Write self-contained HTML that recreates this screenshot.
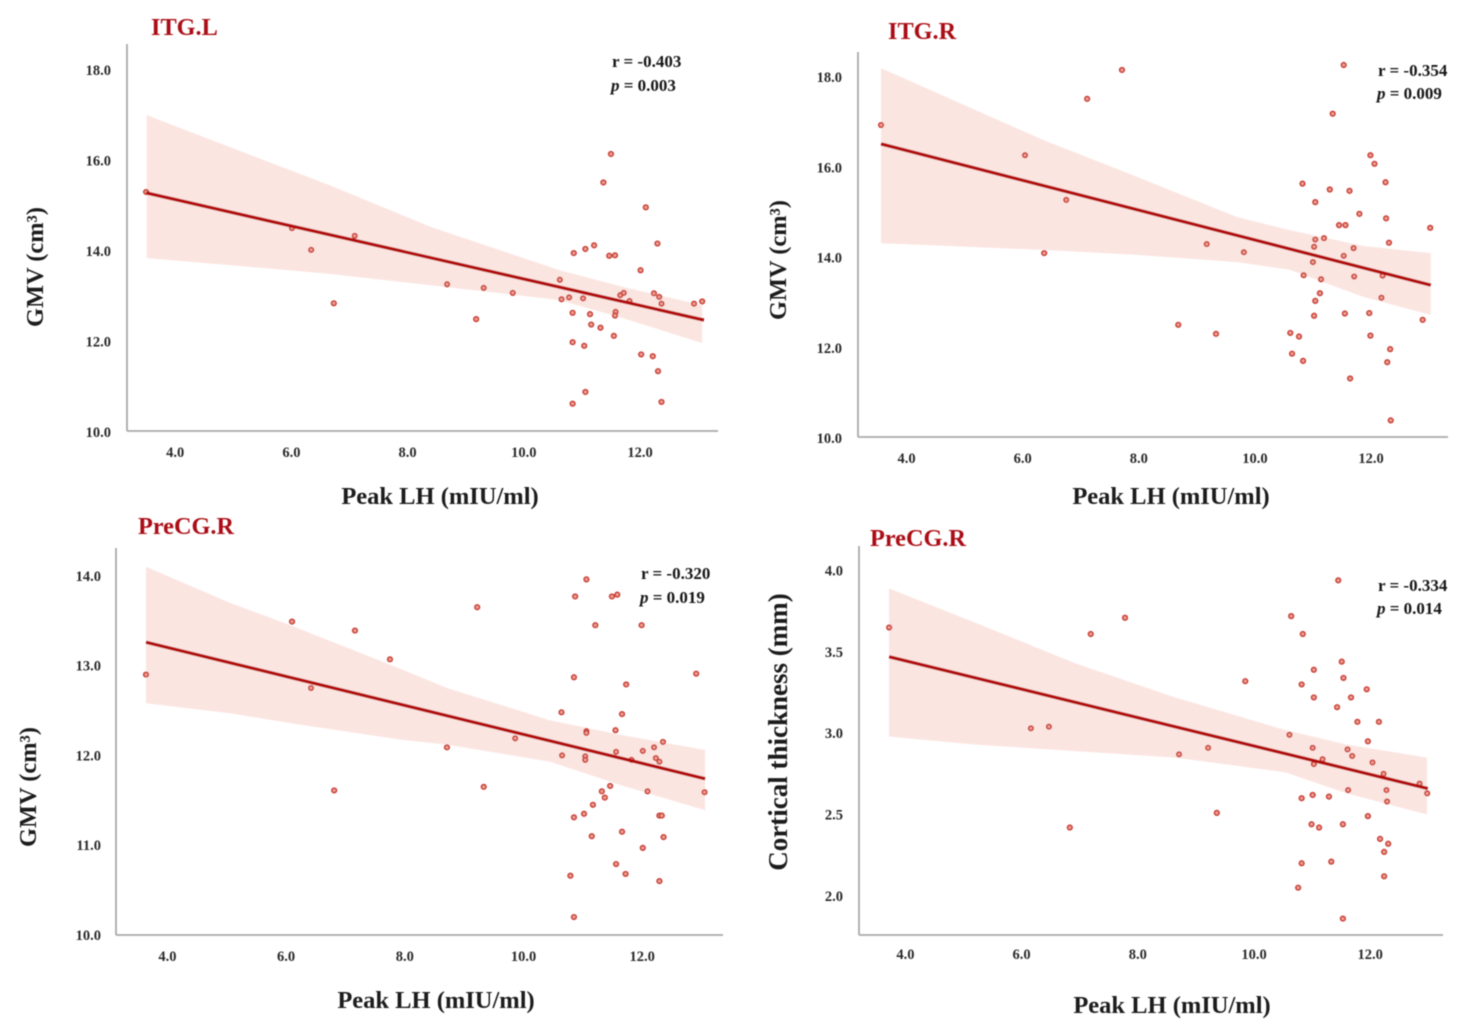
<!DOCTYPE html>
<html lang="en">
<head>
<meta charset="utf-8">
<title>Peak LH correlations</title>
<style>
html,body{margin:0;padding:0;background:#fff;}
svg{display:block;font-family:"Liberation Serif",serif;font-weight:bold;}
.panel-title{font-size:24.3px;fill:#ab0f17;}
.x-title{font-size:24.5px;fill:#1c1c1c;text-anchor:middle;}
.y-title{font-size:24.4px;fill:#1c1c1c;text-anchor:middle;}
.stat{font-size:17px;fill:#141414;}
.tick{font-size:14.5px;fill:#2a2a2a;}
</style>
</head>
<body>
<svg id="chart" width="1465" height="1032" viewBox="0 0 1465 1032" xmlns="http://www.w3.org/2000/svg">
  <defs><filter id="soft" x="-5%" y="-5%" width="110%" height="110%"><feGaussianBlur stdDeviation="0.4"/></filter></defs>
  <g id="panel-1" filter="url(#soft)">
    <text class="panel-title" x="151" y="35">ITG.L</text>
    <text class="x-title" x="440" y="504">Peak LH (mIU/ml)</text>
    <text class="y-title" transform="translate(43 267) rotate(-90)">GMV (cm³)</text>
    <text class="stat" x="612" y="67">r = -0.403</text>
    <text class="stat" x="611" y="91"><tspan font-style="italic">p</tspan> = 0.003</text>
  </g>
  <g id="panel-2" filter="url(#soft)">
    <text class="panel-title" x="888" y="39">ITG.R</text>
    <text class="x-title" x="1171" y="504">Peak LH (mIU/ml)</text>
    <text class="y-title" transform="translate(786 260) rotate(-90)">GMV (cm³)</text>
    <text class="stat" x="1378" y="76">r = -0.354</text>
    <text class="stat" x="1377" y="99"><tspan font-style="italic">p</tspan> = 0.009</text>
  </g>
  <g id="panel-3" filter="url(#soft)">
    <text class="panel-title" x="138" y="534">PreCG.R</text>
    <text class="x-title" x="436" y="1008">Peak LH (mIU/ml)</text>
    <text class="y-title" transform="translate(36 787) rotate(-90)">GMV (cm³)</text>
    <text class="stat" x="641" y="579">r = -0.320</text>
    <text class="stat" x="640" y="603"><tspan font-style="italic">p</tspan> = 0.019</text>
  </g>
  <g id="panel-4" filter="url(#soft)">
    <text class="panel-title" x="870" y="546">PreCG.R</text>
    <text class="x-title" x="1172" y="1013">Peak LH (mIU/ml)</text>
    <text class="y-title" style="font-size:27px" transform="translate(787 732) rotate(-90)">Cortical thickness (mm)</text>
    <text class="stat" x="1378" y="591">r = -0.334</text>
    <text class="stat" x="1377" y="614"><tspan font-style="italic">p</tspan> = 0.014</text>
  </g>
</svg>
<script>
const xTickLabels = ['4.0','6.0','8.0','10.0','12.0'];
const gmv18TickLabels = ['10.0','12.0','14.0','16.0','18.0'];
const gmv14TickLabels = ['10.0','11.0','12.0','13.0','14.0'];
const thicknessTickLabels = ['2.0','2.5','3.0','3.5','4.0'];

const itgLX = [3.50,6.01,6.34,6.73,7.09,8.68,9.31,9.18,9.81,11.50,11.37,12.10,12.30,11.06,11.21,10.86,11.47,11.57,12.01,10.62,10.65,10.78,11.02,11.66,11.72,11.82,12.24,12.33,12.37,12.93,13.07,10.84,11.14,11.58,11.57,11.16,11.32,11.55,10.84,11.04,12.02,12.22,12.31,11.06,10.84,12.37];
const itgLY = [15.30,14.50,14.02,12.84,14.33,13.26,13.18,12.49,13.07,16.14,15.51,14.96,14.16,14.04,14.12,13.95,13.89,13.90,13.57,13.36,12.93,12.97,12.95,13.02,13.07,12.89,13.06,12.98,12.83,12.83,12.88,12.63,12.60,12.65,12.57,12.37,12.30,12.12,11.98,11.90,11.71,11.67,11.34,10.88,10.62,10.66];
const itgLLineX = [3.50,13.10];
const itgLLineY = [15.28,12.47];
const itgLBandX = [3.51,5.51,6.66,8.39,10.62,11.71,13.07];
const itgLBandUpper = [17.00,16.01,15.45,14.53,13.57,13.20,12.80];
const itgLBandLower = [13.84,13.62,13.49,13.24,12.91,12.51,11.96];

const itgRX = [3.56,6.04,6.75,6.37,7.11,7.71,9.17,9.81,8.68,9.33,11.53,11.34,11.99,12.06,10.82,11.29,11.63,12.25,11.04,11.80,12.26,13.02,11.45,11.56,11.04,11.19,11.02,11.70,12.31,11.53,11.00,10.84,11.14,11.71,12.20,11.12,11.04,12.18,11.02,11.55,11.97,12.89,10.61,10.76,11.99,10.64,10.83,12.33,12.28,11.64,12.34];
const itgRY = [16.94,16.27,15.28,14.10,17.52,18.16,14.30,14.12,12.51,12.31,18.27,17.19,16.27,16.08,15.64,15.51,15.48,15.67,15.23,14.97,14.87,14.66,14.72,14.72,14.40,14.43,14.24,14.21,14.33,14.04,13.90,13.61,13.52,13.58,13.60,13.21,13.04,13.11,12.71,12.76,12.77,12.62,12.33,12.25,12.27,11.87,11.71,11.97,11.68,11.32,10.39];
const itgRLineX = [3.56,13.03];
const itgRLineY = [16.52,13.39];
const itgRBandX = [3.56,6.35,7.97,9.69,10.60,11.86,13.03];
const itgRBandUpper = [18.20,16.61,15.79,14.90,14.61,14.26,14.10];
const itgRBandLower = [14.32,14.17,14.06,13.90,13.73,13.13,12.73];

const precgGmvX = [3.64,6.10,6.42,6.81,7.16,7.75,8.71,9.22,9.33,9.86,11.06,10.87,11.49,11.58,11.21,11.99,10.85,11.73,12.91,10.64,11.66,11.06,11.06,11.55,12.35,12.20,12.01,11.56,10.65,11.04,11.04,12.23,12.29,11.82,11.46,11.32,11.37,12.09,13.05,11.17,11.02,10.85,12.29,12.33,11.66,11.15,12.36,12.01,11.56,11.72,10.79,12.29,10.85];
const precgGmvY = [12.90,13.49,12.75,11.61,13.39,13.07,12.09,13.65,11.65,12.19,13.96,13.77,13.77,13.79,13.45,13.45,12.87,12.79,12.91,12.48,12.46,12.27,12.25,12.28,12.15,12.09,12.05,12.04,12.00,11.99,11.95,11.97,11.93,11.95,11.66,11.60,11.53,11.60,11.59,11.45,11.35,11.31,11.33,11.33,11.15,11.10,11.09,10.97,10.79,10.68,10.66,10.60,10.20];
const precgGmvLineX = [3.64,13.06];
const precgGmvLineY = [13.26,11.74];
const precgGmvBandX = [3.64,5.05,6.07,7.87,8.71,10.45,11.63,13.06];
const precgGmvBandUpper = [14.10,13.70,13.45,12.98,12.75,12.39,12.23,12.06];
const precgGmvBandLower = [12.58,12.47,12.36,12.18,12.12,11.93,11.67,11.39];

const precgThickX = [3.72,6.16,6.47,6.83,7.19,7.78,8.71,9.21,9.36,9.85,11.45,10.64,10.84,11.51,11.03,11.54,10.82,11.94,11.03,11.67,11.43,11.78,12.15,10.61,11.96,11.01,11.61,11.69,11.18,11.03,12.04,12.23,12.85,11.62,12.28,12.98,10.82,11.01,11.29,12.29,11.96,10.99,11.12,11.53,12.17,12.31,12.24,10.82,11.33,12.24,10.76,11.53];
const precgThickY = [3.65,3.03,3.04,2.42,3.61,3.71,2.87,2.91,2.51,3.32,3.94,3.72,3.61,3.44,3.39,3.34,3.30,3.27,3.22,3.22,3.16,3.07,3.07,2.99,2.95,2.91,2.90,2.86,2.84,2.81,2.82,2.75,2.69,2.65,2.65,2.63,2.60,2.62,2.61,2.58,2.49,2.44,2.42,2.44,2.35,2.32,2.27,2.20,2.21,2.12,2.05,1.86];
const precgThickLineX = [3.72,12.99];
const precgThickLineY = [3.47,2.66];
const precgThickBandX = [3.72,5.20,6.92,8.64,10.53,11.60,12.98];
const precgThickBandUpper = [3.89,3.68,3.43,3.22,3.02,2.93,2.85];
const precgThickBandLower = [2.98,2.93,2.89,2.85,2.76,2.63,2.50];

const NS = 'http://www.w3.org/2000/svg';

function make(parent, tag, attrs) {
  const el = document.createElementNS(NS, tag);
  for (const k in attrs) el.setAttribute(k, attrs[k]);
  parent.appendChild(el);
  return el;
}

function linearScale(centerValue, centerPixel, pixelsPerUnit) {
  return function (v) { return centerPixel + pixelsPerUnit * (v - centerValue); };
}

function drawPanel(p) {
  const g = document.getElementById(p.id);
  const xS = linearScale(8, p.xCenter, p.xSlope);
  const yS = linearScale(p.yCenterValue, p.yCenter, p.ySlope);

  const upperPts = p.bandX.map(function (v, i) { return xS(v).toFixed(1) + ',' + yS(p.bandUpper[i]).toFixed(1); });
  const lowerPts = p.bandX.map(function (v, i) { return xS(v).toFixed(1) + ',' + yS(p.bandLower[i]).toFixed(1); }).reverse();
  const band = make(g, 'polygon', { points: upperPts.concat(lowerPts).join(' '), fill: '#fbe5e1' });
  
  

  const yAxis = make(g, 'line', { x1: p.axisX, x2: p.axisX, y1: p.axisTop, y2: p.axisBottom, stroke: '#a9a9a9', 'stroke-width': 1.8 });
  
  

  const xAxis = make(g, 'line', { x1: p.axisX, x2: p.axisRight, y1: p.axisBottom, y2: p.axisBottom, stroke: '#a9a9a9', 'stroke-width': 1.8 });
  
  

  xTickLabels.forEach(function (label) {
    const t = make(g, 'text', { class: 'tick', x: xS(parseFloat(label)), y: p.xTickBaseline, 'text-anchor': 'middle' });
    
    
    t.textContent = label;
  });

  p.yTicks.forEach(function (label) {
    const t = make(g, 'text', { class: 'tick', x: p.yTickRight, y: yS(parseFloat(label)) + 5, 'text-anchor': 'end' });
    
    
    t.textContent = label;
  });

  p.x.forEach(function (v, i) {
    const c = make(g, 'circle', { cx: xS(v), cy: yS(p.y[i]), r: 2.3, fill: '#eda193', stroke: '#cb3f38', 'stroke-width': 1.6 });
    
    
  });

  const fit = make(g, 'line', { x1: xS(p.lineX[0]), y1: yS(p.lineY[0]), x2: xS(p.lineX[1]), y2: yS(p.lineY[1]), stroke: '#b3100a', 'stroke-width': 3.4 });
  
  
}

drawPanel({ id: 'panel-1', xCenter: 407.6, xSlope: 58.1, yCenterValue: 14, yCenter: 250.8, ySlope: -45.25,
  axisX: 127, axisTop: 44, axisBottom: 431, axisRight: 718, xTickBaseline: 457, yTickRight: 111, yTicks: gmv18TickLabels,
  x: itgLX, y: itgLY, lineX: itgLLineX, lineY: itgLLineY, bandX: itgLBandX, bandUpper: itgLBandUpper, bandLower: itgLBandLower });

drawPanel({ id: 'panel-2', xCenter: 1138.8, xSlope: 58.05, yCenterValue: 14, yCenter: 257.6, ySlope: -45.1,
  axisX: 858, axisTop: 52, axisBottom: 437, axisRight: 1448, xTickBaseline: 463, yTickRight: 842, yTicks: gmv18TickLabels,
  x: itgRX, y: itgRY, lineX: itgRLineX, lineY: itgRLineY, bandX: itgRBandX, bandUpper: itgRBandUpper, bandLower: itgRBandLower });

drawPanel({ id: 'panel-3', xCenter: 404.8, xSlope: 59.35, yCenterValue: 12, yCenter: 755.4, ySlope: -89.8,
  axisX: 116, axisTop: 548, axisBottom: 935, axisRight: 723, xTickBaseline: 961, yTickRight: 101, yTicks: gmv14TickLabels,
  x: precgGmvX, y: precgGmvY, lineX: precgGmvLineX, lineY: precgGmvLineY, bandX: precgGmvBandX, bandUpper: precgGmvBandUpper, bandLower: precgGmvBandLower });

drawPanel({ id: 'panel-4', xCenter: 1137.8, xSlope: 58.1, yCenterValue: 3, yCenter: 733.2, ySlope: -162.6,
  axisX: 859, axisTop: 546, axisBottom: 935, axisRight: 1443, xTickBaseline: 959, yTickRight: 843, yTicks: thicknessTickLabels,
  x: precgThickX, y: precgThickY, lineX: precgThickLineX, lineY: precgThickLineY, bandX: precgThickBandX, bandUpper: precgThickBandUpper, bandLower: precgThickBandLower });
</script>
</body>
</html>
